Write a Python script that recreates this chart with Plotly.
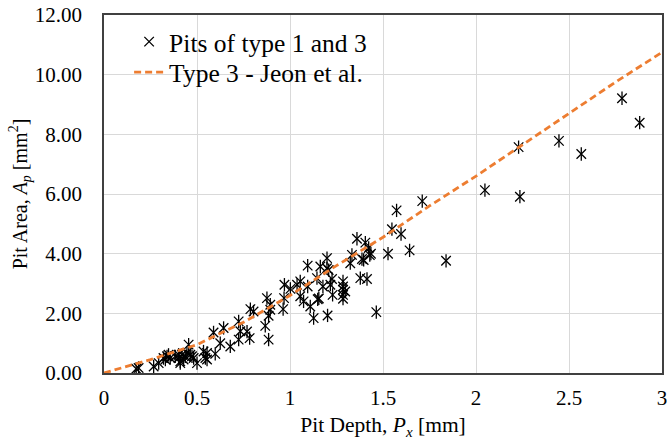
import plotly.graph_objects as go

# Scatter data: pit depth (mm) and pit area (mm^2)
pit_depth = [0.173, 0.186, 0.267, 0.294, 0.320, 0.330, 0.339, 0.347, 0.356, 0.383,
             0.401, 0.401, 0.410, 0.410, 0.419, 0.428, 0.437, 0.446, 0.455, 0.464,
             0.473, 0.482, 0.500, 0.535, 0.545, 0.554, 0.554, 0.598, 0.589, 0.625,
             0.643, 0.679,
             0.724, 0.724, 0.733, 0.769, 0.783, 0.787, 0.804, 0.867, 0.876, 0.885,
             0.885, 0.894, 0.894, 0.963, 0.968, 0.970, 1.002, 1.038, 1.055, 1.055,
             1.073, 1.095, 1.095, 1.109, 1.127, 1.145, 1.149, 1.155, 1.163, 1.177,
             1.199, 1.199, 1.202, 1.208, 1.217, 1.226, 1.229, 1.285, 1.285, 1.285,
             1.285, 1.285, 1.297, 1.324, 1.333, 1.360, 1.378, 1.387, 1.396, 1.405,
             1.414, 1.423, 1.429, 1.435, 1.464,
             1.527, 1.548, 1.573, 1.597, 1.643, 1.711, 1.839, 2.048, 2.229, 2.236,
             2.446, 2.566, 2.785, 2.880]
pit_area = [0.14, 0.17, 0.22, 0.33, 0.50, 0.45, 0.56, 0.61, 0.50, 0.56,
            0.61, 0.50, 0.39, 0.33, 0.61, 0.45, 0.56, 0.67, 0.95, 0.61,
            0.56, 0.50, 0.33, 0.72, 0.50, 0.67, 0.45, 0.64, 1.36, 1.00,
            1.51, 0.89,
            1.73, 1.12, 1.40, 1.39, 1.17, 2.14, 2.06, 1.58, 2.51, 1.92,
            1.12, 2.29, 2.12, 2.14, 2.51, 2.96, 2.82, 2.96, 2.57, 3.07,
            2.40, 3.60, 2.90, 2.23, 1.84, 3.18, 2.47, 2.50, 3.57, 2.90,
            3.85, 3.51, 1.93, 3.45, 2.96, 3.15, 2.62, 3.07, 2.90, 2.79,
            2.62, 2.49, 2.73, 3.68, 3.96, 4.50, 3.18, 3.82, 3.79, 4.37,
            3.15, 4.19, 3.95, 4.00, 2.04,
            4.00, 4.82, 5.45, 4.66, 4.11, 5.76, 3.76, 6.13, 7.57, 5.91,
            7.78, 7.34, 9.21, 8.39]

# Jeon et al. curve
jeon_depth = [0, 0.25, 0.5, 0.75, 1.0, 1.25, 1.5, 1.75, 2.0, 2.25, 2.5, 2.75, 3.0]
jeon_area = [0, 0.45, 0.95, 1.70, 2.60, 3.60, 4.55, 5.60, 6.60, 7.65, 8.70, 9.75, 10.75]

x_ticks = [0, 0.5, 1, 1.5, 2, 2.5, 3]
x_tick_text = ["0", "0.5", "1", "1.5", "2", "2.5", "3"]
y_ticks = [0, 2, 4, 6, 8, 10, 12]

FONT = "Liberation Serif, Times New Roman, serif"

fig = go.Figure()
fig.add_trace(go.Scatter(
    x=pit_depth, y=pit_area, mode="markers", name="Pits of type 1 and 3",
    legend="legend",
    marker=dict(symbol="x-thin", size=9.5, line=dict(color="black", width=1.3), color="black"),
))
fig.add_trace(go.Scatter(
    x=pit_depth, y=pit_area, mode="markers", showlegend=False, hoverinfo="skip",
    marker=dict(symbol="line-ns", size=9.5, line=dict(color="black", width=1.3), color="black"),
))
fig.add_trace(go.Scatter(
    x=jeon_depth, y=jeon_area, mode="lines", name="Type 3 - Jeon et al.",
    legend="legend2",
    line=dict(color="#ED7D31", width=2.8, dash="7px,4px"),
))

legend_common = dict(xanchor="left", yanchor="top", bgcolor="rgba(255,255,255,0)",
                     font=dict(size=25.5, family=FONT, color="black"), itemwidth=30)

fig.update_layout(
    width=667, height=440,
    margin=dict(l=104, r=5, t=15, b=67),
    paper_bgcolor="white", plot_bgcolor="white",
    font=dict(family=FONT, size=21, color="black"),
    showlegend=True,
    legend=dict(x=0.045, y=0.99, **legend_common),
    legend2=dict(x=0.045, y=0.905, **legend_common),
    xaxis=dict(
        range=[0, 3], tickvals=x_ticks, ticktext=x_tick_text,
        showgrid=True, gridcolor="#d9d9d9", gridwidth=1,
        showline=True, linecolor="#404040", linewidth=1.5, mirror=True,
        ticks="", zeroline=False, automargin=False, ticklabelstandoff=5,
        ticklabeloverflow="allow",
        title=dict(text="Pit Depth, <i>P<sub>x</sub></i> [mm]", font=dict(size=21.5), standoff=12),
        tickfont=dict(size=21),
    ),
    yaxis=dict(
        range=[0, 12], tickvals=y_ticks, tickformat=".2f",
        showgrid=True, gridcolor="#d9d9d9", gridwidth=1,
        showline=True, linecolor="#404040", linewidth=1.5, mirror=True,
        ticks="", zeroline=False, automargin=False, ticklabelstandoff=16,
        title=dict(text="Pit Area, <i>A<sub>p</sub></i> [mm<sup>2</sup>]", font=dict(size=20), standoff=2),
        tickfont=dict(size=21),
    ),
)

fig.write_html("out.html", config={"displayModeBar": False},
               post_script="document.body.style.margin='0';")
